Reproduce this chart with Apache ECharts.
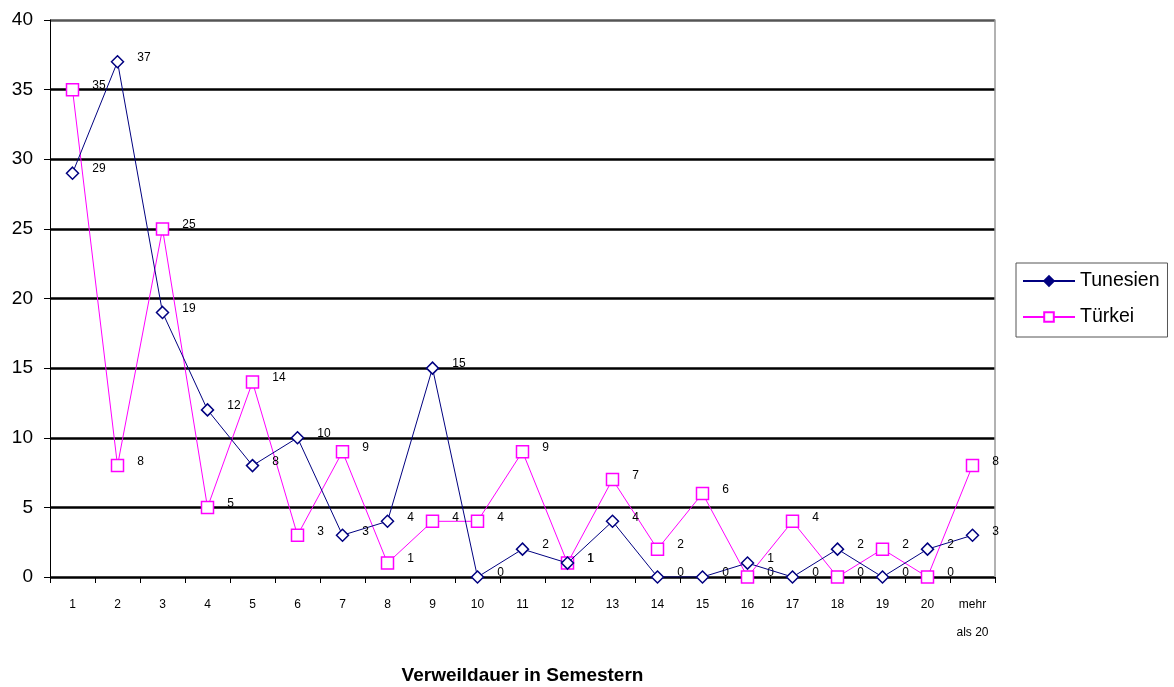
<!DOCTYPE html>
<html>
<head>
<meta charset="utf-8">
<script src="https://cdn.jsdelivr.net/npm/echarts@6/dist/echarts.min.js"></script>
<style>
  html, body { margin: 0; padding: 0; background: #fff; }
  #chart { width: 1174px; height: 687px; }
</style>
</head>
<body>
<div id="chart"></div>
<script>
// Kategorien (Semester)
const categories = ['1', '2', '3', '4', '5', '6', '7', '8', '9', '10', '11', '12', '13', '14', '15', '16', '17', '18', '19', '20', 'mehr\nals 20']
const tunesien = [29, 37, 19, 12, 8, 10, 3, 4, 15, 0, 2, 1, 4, 0, 0, 1, 0, 2, 0, 2, 3]
const tuerkei = [35, 8, 25, 5, 14, 3, 9, 1, 4, 4, 9, 1, 7, 2, 6, 0, 4, 0, 2, 0, 8]
const yTicks = [0, 5, 10, 15, 20, 25, 30, 35, 40]

const font = '"Liberation Sans", Arial, sans-serif'
const chart = echarts.init(document.getElementById('chart'))

const labelCfg = {
  show: true,
  position: 'right',
  distance: 13,
  offset: [0, -4],
  color: '#000',
  fontSize: 12,
  fontFamily: font
}

chart.setOption({
  animation: false,
  grid: { left: 50, right: 179, top: 20, bottom: 110, outerBoundsMode: 'none', containLabel: false },
  legend: {
    orient: 'vertical',
    left: 1016,
    top: 263,
    padding: [8, 8, 10, 6],
    itemGap: 16,
    itemWidth: 52,
    itemHeight: 12,
    borderColor: '#555',
    borderWidth: 1,
    textStyle: { fontSize: 19.5, color: '#000', fontFamily: font },
    data: [
      { name: 'Tunesien', itemStyle: { color: '#000080', borderColor: '#000080' } },
      { name: 'Türkei', itemStyle: { color: '#fff', borderColor: '#ff00ff' } }
    ]
  },
  xAxis: {
    type: 'category',
    data: categories,
    boundaryGap: true,
    name: 'Verweildauer in Semestern',
    nameLocation: 'middle',
    nameGap: 89,
    nameTextStyle: { fontSize: 19, fontWeight: 'bold', color: '#000', fontFamily: font },
    axisLine: { lineStyle: { color: '#000', width: 1 } },
    axisTick: { show: true, interval: 0, length: 6, lineStyle: { color: '#000' } },
    axisLabel: {
      interval: 0,
      margin: 14,
      fontSize: 12,
      color: '#000',
      fontFamily: font,
      lineHeight: 28,
      verticalAlign: 'top'
    }
  },
  yAxis: [{
    type: 'value',
    min: 0,
    max: 40,
    interval: 5,
    axisLine: { show: true, lineStyle: { color: '#000', width: 1 } },
    axisTick: { show: true, length: 6, lineStyle: { color: '#000' } },
    axisLabel: {
      fontSize: 19,
      color: '#000',
      fontFamily: font,
      margin: 17,
      formatter: v => yTicks.includes(v) ? String(v) : ''
    },
    splitLine: {
      show: true,
      lineStyle: {
        width: 2.5,
        color: ['#000', '#000', '#000', '#000', '#000', '#000', '#000', '#000', '#555']
      }
    }
  }, {
    type: 'value',
    min: 0,
    max: 40,
    interval: 5,
    position: 'right',
    axisLine: { show: true, lineStyle: { color: '#999', width: 1.5 } },
    axisTick: { show: false },
    axisLabel: { show: false },
    splitLine: { show: false }
  }],
  series: [{
    name: 'Tunesien',
    type: 'line',
    data: tunesien,
    symbol: 'diamond',
    symbolSize: 12,
    showAllSymbol: true,
    lineStyle: { color: '#000080', width: 1 },
    itemStyle: { color: '#fff', borderColor: '#000080', borderWidth: 1.5 },
    label: labelCfg,
    z: 3
  }, {
    name: 'Türkei',
    type: 'line',
    data: tuerkei,
    symbol: 'rect',
    symbolSize: 12,
    showAllSymbol: true,
    lineStyle: { color: '#ff00ff', width: 1 },
    itemStyle: { color: '#fff', borderColor: '#ff00ff', borderWidth: 1.5 },
    label: labelCfg,
    z: 2
  }]
})
</script>
</body>
</html>
